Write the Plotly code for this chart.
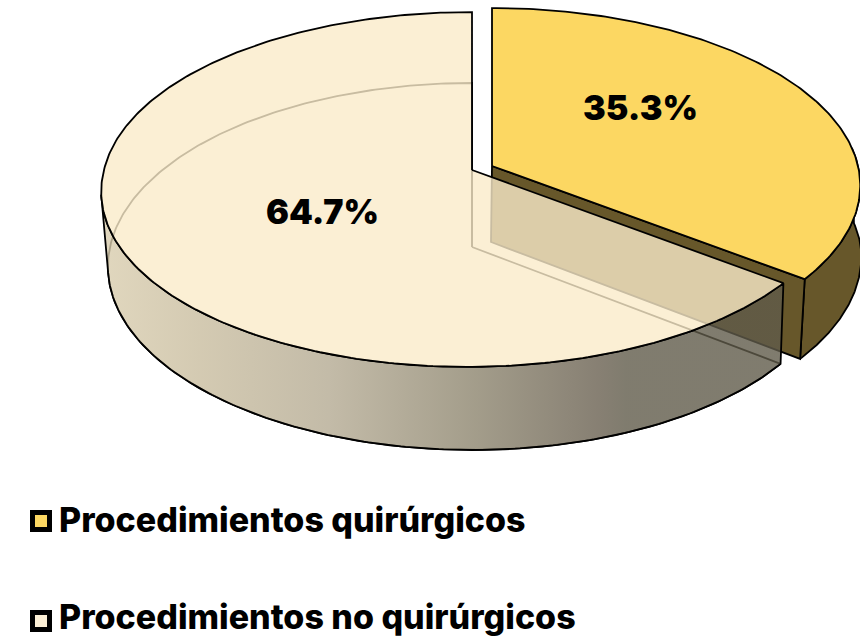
import numpy as np
import plotly.graph_objects as go

# --- data ---
categories = ["Procedimientos quirúrgicos", "Procedimientos no quirúrgicos"]
shares = [35.3, 64.7]
share_labels = ["35.3%", "64.7%"]

# --- style / geometry of the fake-3D pie ---
YELLOW = "rgb(252,215,98)"
YELLOW_WALL = "rgb(103,87,42)"
CREAM = "rgba(250,235,201,0.8)"
LEG_CREAM = "rgb(252,240,214)"
FONT = "Inter, 'Open Sans', sans-serif"
LW = 1.8


def project(theta, face):
    """theta is clockwise from 12 o'clock, in radians."""
    cx, cy, A, B, k, s = face
    u, v = np.sin(theta), -np.cos(theta)
    w = 1 - k * v
    return cx + A * u / w - s * np.maximum(v, 0), cy + B * v / w


TOP_BIG = (472, 170, 368, 175.3, 0.1099, 5)
LOW_BIG = (472, 247, 362, 181.4, 0.1063, 0)
TOP_YEL = (492, 166, 366, 175.3, 0.1099, 0)
LOW_YEL = (491, 242, 369, 181.4, 0.1063, 9)

split = 2 * np.pi * shares[0] / sum(shares)
t_yel = np.linspace(0, split, 160)
t_big = np.linspace(split, 2 * np.pi, 300)
t_front = np.linspace(split, np.radians(262), 200)
t_yfront = np.linspace(np.radians(84), split, 100)

fig = go.Figure()


def poly(x, y, fill=None, line="black", width=LW, gradient=None, closed=True):
    x, y = list(x), list(y)
    if closed:
        x.append(x[0])
        y.append(y[0])
    kw = {}
    if fill is not None:
        kw.update(fill="toself", fillcolor=fill)
    if gradient is not None:
        kw.update(fill="toself", fillgradient=gradient)
    fig.add_trace(go.Scatter(x=x, y=y, mode="lines",
                             line=dict(color=line, width=width),
                             hoverinfo="skip", showlegend=False))
    d = fig.data[-1]
    for key, val in kw.items():
        d[key] = val


# ---- yellow slice ----
ty = project(t_yel, TOP_YEL)
tf = project(t_yfront, TOP_YEL)
lf = project(t_yfront, LOW_YEL)
# outer wall
poly(np.r_[tf[0], lf[0][::-1]], np.r_[tf[1], lf[1][::-1]], fill=YELLOW_WALL)
# cut wall
e_t = project(split, TOP_YEL)
e_l = project(split, LOW_YEL)
poly([TOP_YEL[0], e_t[0], e_l[0], LOW_YEL[0]],
     [TOP_YEL[1], e_t[1], e_l[1], LOW_YEL[1]], fill=YELLOW_WALL)
# top face
poly(np.r_[TOP_YEL[0], ty[0]], np.r_[TOP_YEL[1], ty[1]], fill=YELLOW)

# ---- cream slice ----
tb = project(t_big, TOP_BIG)
lb = project(t_big, LOW_BIG)
tfb = project(t_front, TOP_BIG)
lfb = project(t_front, LOW_BIG)
# lower edge of the slice, seen through the top face
poly(np.r_[LOW_BIG[0], lb[0]], np.r_[LOW_BIG[1], lb[1]])
# inner vertical edge
poly([TOP_BIG[0], LOW_BIG[0]], [TOP_BIG[1], LOW_BIG[1]], closed=False)
# outer wall with left-to-right shading
poly(np.r_[tfb[0], lfb[0][::-1]], np.r_[tfb[1], lfb[1][::-1]],
     gradient=dict(type="horizontal", colorscale=[
         [0.000, "rgba(217,205,174,0.8)"],
         [0.143, "rgba(201,189,159,0.8)"],
         [0.334, "rgba(180,170,146,0.8)"],
         [0.539, "rgba(142,134,111,0.8)"],
         [0.729, "rgba(105,96,80,0.8)"],
         [0.770, "rgba(96,91,74,0.8)"],
         [1.000, "rgba(96,91,74,0.8)"],
     ]))
# top face
poly(np.r_[TOP_BIG[0], tb[0]], np.r_[TOP_BIG[1], tb[1]], fill=CREAM)

# ---- legend swatches ----
fig.add_trace(go.Scatter(
    x=[41, 41], y=[521, 621], mode="markers", hoverinfo="skip", showlegend=False,
    marker=dict(symbol="square", size=17, color=[YELLOW, LEG_CREAM],
                line=dict(color="black", width=5))))

# ---- text ----
for txt, x, y in [(share_labels[0], 640, 107), (share_labels[1], 322, 211)]:
    fig.add_annotation(x=x, y=y, text=txt, showarrow=False,
                       font=dict(family=FONT, size=34, weight=900, color="black"))
for txt, y in zip(categories, [519, 616.5]):
    fig.add_annotation(x=57, y=y, text=txt, showarrow=False, xanchor="left",
                       font=dict(family=FONT, size=34, weight=800, color="black"))

fig.update_layout(
    width=860, height=637, margin=dict(l=0, r=0, t=0, b=0),
    paper_bgcolor="white", plot_bgcolor="white", showlegend=False,
    xaxis=dict(range=[0, 860], visible=False, fixedrange=True),
    yaxis=dict(range=[637, 0], visible=False, fixedrange=True),
)
fig.write_html("out.html", config={"displayModeBar": False},
               post_script="document.body.style.margin='0';document.documentElement.style.overflow='hidden';")
